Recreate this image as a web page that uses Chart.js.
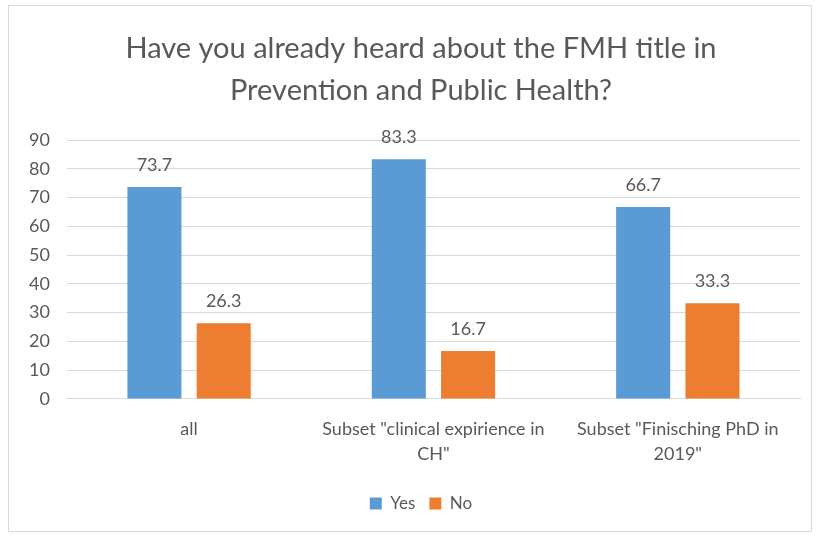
<!DOCTYPE html>
<html>
<head>
<meta charset="utf-8">
<script src="https://cdn.jsdelivr.net/npm/chart.js@4.4.1/dist/chart.umd.min.js"></script>
<style>
  html, body { margin: 0; padding: 0; background: #fff; }
  #wrap { position: relative; width: 816px; height: 536px; }
</style>
</head>
<body>
<div id="wrap"><canvas id="chart" width="816" height="536"></canvas></div>
<script>
// values
const categories = ['all', ['Subset "clinical expirience in', 'CH"'], ['Subset "Finisching PhD in', '2019"']];
const yesValues = [73.7, 83.3, 66.7];
const noValues = [26.3, 16.7, 33.3];
const seriesNames = ['Yes', 'No'];
const titleLines = ['Have you already heard about the FMH title in', 'Prevention and Public Health?'];

const textColor = '#595959';
const fontFamily = "Lato, 'Open Sans', sans-serif";

// frame around the whole chart, like the office chart border
const framePlugin = {
    id: 'frame',
    beforeDraw(chart) {
        const ctx = chart.ctx;
        ctx.save();
        ctx.fillStyle = '#fff';
        ctx.fillRect(0, 0, chart.width, chart.height);
        ctx.strokeStyle = '#d9d9d9';
        ctx.lineWidth = 1;
        ctx.strokeRect(8.5, 5.5, 803, 526);
        ctx.restore();
    }
};

// title and legend sit a bit right of the canvas centre in the original
const nudgeBoxes = {
    id: 'nudgeBoxes',
    afterLayout(chart) {
        const shift = 15;
        if (chart.titleBlock) {
            chart.titleBlock.left += shift;
            chart.titleBlock.right += shift;
        }
        if (chart.legend) {
            chart.legend.left += shift;
            chart.legend.right += shift;
            chart.legend.top -= 4;
            chart.legend.bottom -= 4;
        }
    }
};

// value labels above the bars
const valueLabels = {
    id: 'valueLabels',
    afterDatasetsDraw(chart) {
        const ctx = chart.ctx;
        ctx.save();
        ctx.fillStyle = textColor;
        ctx.font = '18px ' + fontFamily;
        ctx.textAlign = 'center';
        ctx.textBaseline = 'middle';
        chart.data.datasets.forEach(function (ds, i) {
            const meta = chart.getDatasetMeta(i);
            meta.data.forEach(function (bar, j) {
                ctx.fillText(ds.data[j].toFixed(1), bar.x, bar.y - 22);
            });
        });
        ctx.restore();
    }
};

new Chart('chart', {
    type: 'bar',
    data: {
        labels: categories,
        datasets: [
            {
                label: seriesNames[0],
                data: yesValues,
                backgroundColor: '#5b9bd5',
                categoryPercentage: 0.567,
                barPercentage: 0.78
            },
            {
                label: seriesNames[1],
                data: noValues,
                backgroundColor: '#ed7d31',
                categoryPercentage: 0.567,
                barPercentage: 0.78
            }
        ]
    },
    options: {
        responsive: false,
        animation: false,
        layout: {
            padding: { left: 12, right: 16, top: 20, bottom: 10 }
        },
        plugins: {
            title: {
                display: true,
                text: titleLines,
                color: textColor,
                font: { family: fontFamily, size: 29, weight: 'normal', lineHeight: 1.45 },
                padding: { top: 8, bottom: 28 }
            },
            legend: {
                position: 'bottom',
                labels: {
                    color: textColor,
                    font: { family: fontFamily, size: 17 },
                    boxWidth: 12,
                    boxHeight: 12,
                    padding: 14
                }
            },
            tooltip: { enabled: false }
        },
        scales: {
            x: {
                grid: { display: false, drawTicks: false },
                border: { display: true, color: '#d9d9d9' },
                ticks: {
                    color: textColor,
                    font: { family: fontFamily, size: 18, lineHeight: 1.39 },
                    padding: 18,
                    maxRotation: 0
                }
            },
            y: {
                min: 0,
                max: 90,
                ticks: {
                    stepSize: 10,
                    color: textColor,
                    font: { family: fontFamily, size: 18 },
                    padding: 17
                },
                grid: { color: '#d9d9d9', drawTicks: false },
                border: { display: false }
            }
        }
    },
    plugins: [framePlugin, nudgeBoxes, valueLabels]
});
</script>
</body>
</html>
